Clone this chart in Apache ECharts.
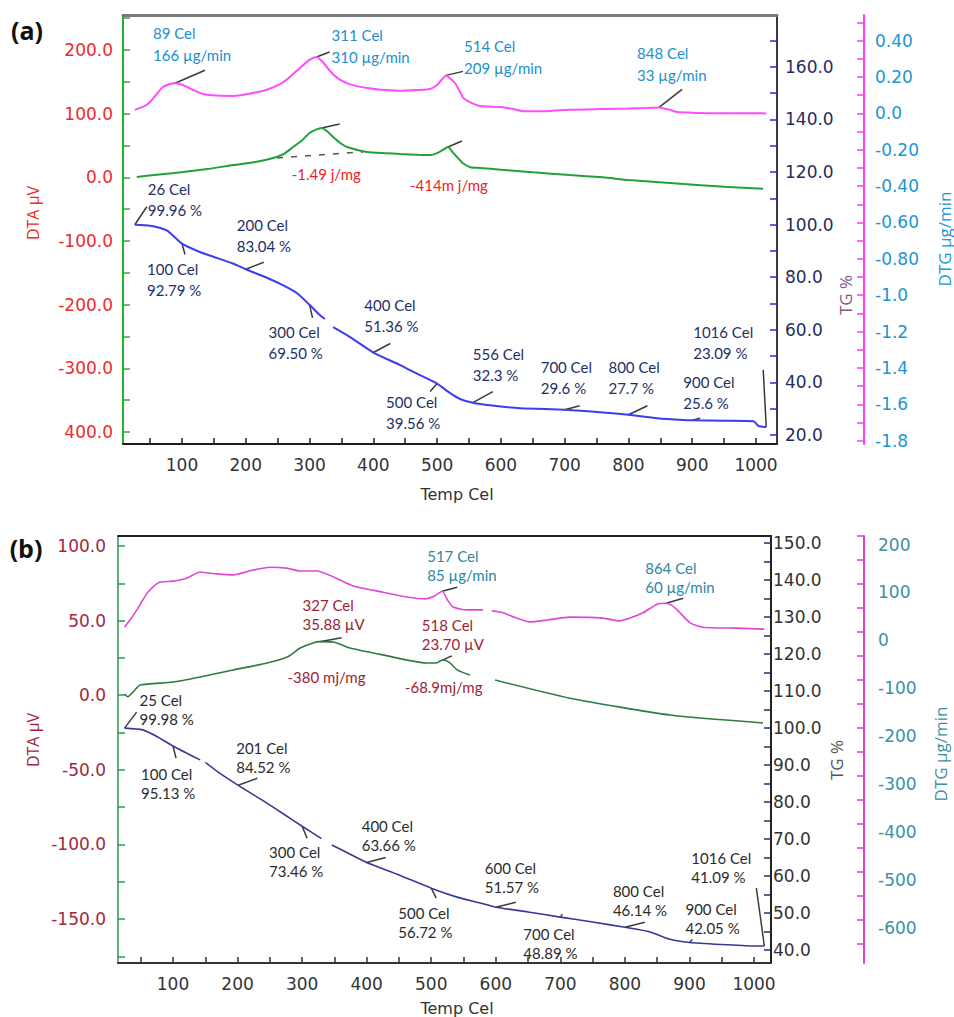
<!DOCTYPE html>
<html>
<head>
<meta charset="utf-8">
<script src="https://cdn.jsdelivr.net/npm/echarts@6/dist/echarts.min.js"></script>
<style>
  html, body { margin: 0; padding: 0; background: #fff; }
  #chart { width: 954px; height: 1017px; }
</style>
</head>
<body>
<div id="chart"></div>
<script>
// ---------------- Panel (a) data ----------------
// TG, %
const tgTempA = [26, 50, 76, 100, 128, 149, 180, 200, 233, 258, 280, 300, 316, 324, 330, 337, 363, 400, 442, 473, 500, 520, 536, 556, 583, 630, 700, 760, 800, 845, 886, 900, 950, 996, 1004, 1016];
const tgValA  = [99.96, 99.6, 97.8, 92.79, 89.6, 87.8, 85.2, 83.04, 79.8, 77.0, 74.0, 69.50, 65.6, 64.1, null, 61.0, 57.3, 51.36, 46.6, 42.8, 39.56, 36.0, 33.7, 32.3, 31.3, 30.2, 29.6, 28.6, 27.7, 26.4, 25.7, 25.6, 25.4, 25.2, 23.4, 23.09];
// DTG, µg/min (axis is drawn in mg/min)
const dtgTempA = [26, 40, 50, 60, 70, 80, 89, 98, 108, 120, 133, 155, 180, 205, 233, 255, 269, 285, 300, 311, 320, 327, 337, 348, 365, 390, 420, 442, 470, 489, 500, 507, 514, 521, 528, 535, 541, 552, 567, 600, 619, 635, 670, 708, 760, 800, 830, 848, 862, 876, 900, 917, 960, 1016];
const dtgValA  = [19, 38, 63, 105, 145, 160, 166, 160, 145, 125, 107, 98, 96, 108, 130, 163, 200, 250, 294, 310, 285, 255, 215, 184, 158, 140, 128, 124, 128, 134, 156, 185, 209, 190, 167, 125, 85, 60, 41, 35, 24, 12, 12, 20, 24, 27, 30, 33, 22, 8, 4, 2, 1, 0];
// DTA, µV
const dtaTempA = [29, 60, 102, 140, 180, 215, 243, 260, 274, 288, 300, 310, 319, 328, 337, 348, 359, 375, 390, 420, 442, 470, 489, 500, 509, 517, 524, 532, 540, 552, 567, 600, 650, 708, 760, 800, 865, 950, 1011];
const dtaValA  = [0.5, 4, 8.4, 13, 19.4, 24, 30.4, 37, 47.6, 58, 69.6, 75, 77.5, 72, 63.4, 54, 47.6, 43, 40, 38, 36.7, 35.5, 35, 38, 43, 47.6, 40, 31, 22.5, 16, 14.7, 12, 8, 3.7, 0, -4.2, -8.9, -14.7, -18];

// annotated points of panel (a)
const dtgNoteTempA = [89, 311, 514, 848];
const dtgNoteValA  = [166, 310, 209, 33];
const tgNoteTempA  = [26, 100, 200, 300, 400, 500, 556, 700, 800, 900, 1016];
const tgNoteTextA  = ['99.96', '92.79', '83.04', '69.50', '51.36', '39.56', '32.3', '29.6', '27.7', '25.6', '23.09'];
const dtaPeakTempA = [319, 517];
const dtaPeakTextA = ['-1.49 j/mg', '-414m j/mg'];

// tick labels of panel (a)
const xLabelValsA = [100, 200, 300, 400, 500, 600, 700, 800, 900, 1000];
const dtaLabelValsA = [200, 100, 0, -100, -200, -300, -400];
const dtaLabelTextA = ['200.0', '100.0', '0.0', '-100.0', '-200.0', '-300.0', '400.0'];
const tgLabelValsA = [160, 140, 120, 100, 80, 60, 40, 20];
const tgLabelTextA = ['160.0', '140.0', '120.0', '100.0', '80.0', '60.0', '40.0', '20.0'];
const dtgLabelValsA = [0.4, 0.2, 0, -0.2, -0.4, -0.6, -0.8, -1.0, -1.2, -1.4, -1.6, -1.8];
const dtgLabelTextA = ['0.40', '0.20', '0.0', '-0.20', '-0.40', '-0.60', '-0.80', '-1.0', '-1.2', '-1.4', '-1.6', '-1.8'];

// ---------------- Panel (b) data ----------------
const tgTempB = [25, 53, 75, 100, 120, 142, 145, 150, 170, 201, 240, 270, 300, 330, 338, 346, 370, 400, 450, 500, 540, 576, 600, 650, 700, 750, 800, 839, 870, 900, 950, 1000, 1016];
const tgValB  = [99.98, 99.5, 97.7, 95.13, 93.3, 91.4, null, 90.7, 88.1, 84.52, 80.3, 76.9, 73.46, 70.1, null, 68.4, 66.3, 63.66, 60.3, 56.72, 54.3, 52.7, 51.57, 50.3, 48.89, 47.6, 46.14, 44.9, 42.9, 42.05, 41.5, 41.1, 41.09];
const dtgTempB = [25, 35, 44, 52, 60, 70, 80, 100, 121, 142, 155, 168, 193, 224, 250, 276, 297, 323, 348, 379, 425, 462, 490, 505, 517, 526, 534, 555, 580, 588, 594, 611, 630, 653, 680, 715, 766, 792, 810, 828, 850, 864, 872, 881, 901, 921, 974, 1016];
const dtgValB  = [10, 28, 46, 64, 81, 95, 104, 106, 112, 125, 123, 121, 119, 129, 135, 133, 127, 127, 115, 96, 83, 73, 69, 75, 85, 65, 52, 46, 46, null, 44, 40, 30, 21, 25, 31, 29, 23, 30, 40, 58, 60, 56, 46, 19, 10, 8, 6];
const dtaTempB = [25, 30, 40, 49, 100, 142, 193, 246, 277, 297, 317, 327, 348, 374, 425, 493, 509, 518, 528, 540, 560, 580, 599, 715, 870, 1014];
const dtaValB  = [0.8, -1, 3, 6.8, 8.8, 12.2, 16.9, 21.6, 25.6, 31.6, 35, 35.88, 35.7, 31.6, 27, 21.6, 21.8, 23.70, 22, 17, 13.5, null, 10.2, -2, -13.3, -18.6];

const dtgNoteTempB = [517, 864];
const dtgNoteValB  = [85, 60];
const dtaNoteTempB = [327, 518];
const dtaNoteTextB = ['35.88', '23.70'];
const dtaAreaTextB = ['-380 mj/mg', '-68.9mj/mg'];
const tgNoteTempB  = [25, 100, 201, 300, 400, 500, 600, 700, 800, 900, 1016];
const tgNoteTextB  = ['99.98', '95.13', '84.52', '73.46', '63.66', '56.72', '51.57', '48.89', '46.14', '42.05', '41.09'];

const xLabelValsB = [100, 200, 300, 400, 500, 600, 700, 800, 900, 1000];
const dtaLabelValsB = [100, 50, 0, -50, -100, -150];
const dtaLabelTextB = ['100.0', '50.0', '0.0', '-50.0', '-100.0', '-150.0'];
const tgLabelValsB = [150, 140, 130, 120, 110, 100, 90, 80, 70, 60, 50, 40];
const tgLabelTextB = ['150.0', '140.0', '130.0', '120.0', '110.0', '100.0', '90.0', '80.0', '70.0', '60.0', '50.0', '40.0'];
const dtgLabelValsB = [200, 100, 0, -100, -200, -300, -400, -500, -600];
const dtgLabelTextB = ['200', '100', '0', '-100', '-200', '-300', '-400', '-500', '-600'];

// ---------------- helpers ----------------
function steps(from, to, step) {
  const out = [];
  const n = Math.round((to - from) / step);
  for (let i = 0; i <= n; i++) out.push(+(from + i * step).toFixed(6));
  return out;
}
function pairs(xs, ys, scale) {
  return xs.map((x, i) => [x, ys[i] === null ? '-' : ys[i] * (scale || 1)]);
}
function labelLookup(vals, texts) {
  return v => {
    for (let i = 0; i < vals.length; i++) if (Math.abs(vals[i] - v) < 1e-6) return texts[i];
    return '';
  };
}
const TICK_FONT = 'DejaVu Sans';
const NOTE_FONT = 'Lato';

function xAxisDef(grid, min, max, color, labelVals) {
  return {
    type: 'value', gridIndex: grid, position: 'bottom', min, max,
    axisLine: { show: true, onZero: false, lineStyle: { color, width: 2 } },
    axisTick: { show: true, inside: true, length: 6, customValues: steps(50, 1000, 50), lineStyle: { color, width: 1.5 } },
    axisLabel: { customValues: labelVals, formatter: v => String(v), color: '#333', fontFamily: TICK_FONT, fontSize: 17, margin: 12 },
    splitLine: { show: false }
  };
}
function borderAxisDef(grid, min, max, color, width) {
  return {
    type: 'value', gridIndex: grid, position: 'top', min, max,
    axisLine: { show: true, onZero: false, lineStyle: { color, width } },
    axisTick: { show: false }, axisLabel: { show: false }, splitLine: { show: false }
  };
}
function yAxisDef(o) {
  const label = {
    customValues: o.labelVals, formatter: labelLookup(o.labelVals, o.labelText),
    color: o.labelColor, fontFamily: TICK_FONT, fontSize: 17, margin: o.margin
  };
  if (o.vAlign) label.verticalAlign = o.vAlign;
  return {
    type: 'value', gridIndex: o.grid, position: o.pos, offset: o.offset || 0, min: o.min, max: o.max,
    axisLine: { show: true, onZero: false, lineStyle: { color: o.lineColor, width: o.lineWidth || 2 } },
    axisTick: { show: true, inside: true, length: o.tickLen || 7, customValues: o.ticks, lineStyle: { color: o.tickColor || o.lineColor, width: 1.5 } },
    axisLabel: label,
    splitLine: { show: false }
  };
}
function curve(name, xi, yi, data, color, width) {
  return {
    name, type: 'line', xAxisIndex: xi, yAxisIndex: yi, data, symbol: 'none', silent: true,
    smooth: 0.2, lineStyle: { color, width }
  };
}

// ---------------- chart ----------------
const chart = echarts.init(document.getElementById('chart'), null, { renderer: 'svg' });

const option = {
  animation: false,
  backgroundColor: '#fff',
  grid: [
    { left: 123, top: 15, width: 654, height: 429 },
    { left: 118, top: 536, width: 653, height: 427 }
  ],
  xAxis: [
    xAxisDef(0, 7.5, 1032.9, '#1e1e1e', xLabelValsA),
    borderAxisDef(0, 7.5, 1032.9, '#7a7a7a', 3),
    xAxisDef(1, 14.8, 1026.3, '#333', xLabelValsB),
    borderAxisDef(1, 14.8, 1026.3, '#222', 2)
  ],
  yAxis: [
    yAxisDef({ grid: 0, pos: 'left', min: -418.8, max: 255, ticks: steps(-400, 250, 50),
      labelVals: dtaLabelValsA, labelText: dtaLabelTextA, lineColor: '#22b02e', labelColor: '#ee2a2a', margin: 10 }),
    yAxisDef({ grid: 0, pos: 'right', min: 16.58, max: 179.7, ticks: steps(20, 170, 10),
      labelVals: tgLabelValsA, labelText: tgLabelTextA, lineColor: '#3a3a3a', tickColor: '#2b2bd0', labelColor: '#1f2d5c', margin: 8 }),
    yAxisDef({ grid: 0, pos: 'right', offset: 87, min: -1.818, max: 0.541, ticks: steps(-1.8, 0.5, 0.1),
      labelVals: dtgLabelValsA, labelText: dtgLabelTextA, lineColor: '#ff3cff', labelColor: '#1b95d4', margin: 11 }),
    yAxisDef({ grid: 1, pos: 'left', min: -179.5, max: 106.7, ticks: steps(-175, 100, 25),
      labelVals: dtaLabelValsB, labelText: dtaLabelTextB, lineColor: '#2a9a44', labelColor: '#a2283c', margin: 12, lineWidth: 1.5 }),
    yAxisDef({ grid: 1, pos: 'right', min: 36.5, max: 151.9, ticks: steps(40, 150, 5),
      labelVals: tgLabelValsB, labelText: tgLabelTextB, lineColor: '#222', tickColor: '#2a2a70', labelColor: '#333', margin: 2 }),
    yAxisDef({ grid: 1, pos: 'right', offset: 93, min: -689.6, max: 200, ticks: steps(-650, 200, 50),
      labelVals: dtgLabelValsB, labelText: dtgLabelTextB, lineColor: '#e040d0', labelColor: '#3f8ea3', margin: 14,
      vAlign: 'top' })
  ],
  series: [
    curve('DTG a', 0, 2, pairs(dtgTempA, dtgValA, 0.001), '#ff4cff', 2),
    curve('DTA a', 0, 0, pairs(dtaTempA, dtaValA), '#22a03a', 2),
    curve('TG a', 0, 1, pairs(tgTempA, tgValA), '#3c3cf2', 2),
    curve('DTG b', 2, 5, pairs(dtgTempB, dtgValB), '#e046d8', 1.6),
    curve('DTA b', 2, 3, pairs(dtaTempB, dtaValB), '#2f7a45', 1.6),
    curve('TG b', 2, 4, pairs(tgTempB, tgValB), '#383896', 1.6)
  ]
};
chart.setOption(option);

// ---------------- annotations ----------------
// Label placement relative to the annotated point: [text dx, text dy, leader dx, leader dy]
const dtgLayoutA = [[-22, -61, 30, -13], [15, -33, 13, -5], [18, -40, 17, -4], [-22, -65, 23, -18]];
const tgLayoutA = [[13, -46, 12, -18], [-35, 15, 3, 11], [-9, -55, 18, -7], [-41, 17, 3, 13], [-9, -58, 17, -9],
  [-51, 8, -7, 8], [0, -59, 20, -11], [-24, -53, 15, -4], [-20, -58, 19, -9], [-9, -49, 8, -2], [-73, -105, -3, -57]];
const dtaLayoutA = [[-30, 36, 18, -4], [-38, 28, 14, -6]];
const dtgLayoutB = [[-15, -45, 15, -4], [-21, -45, 17, -5]];
const dtaLayoutB = [[-17, -46, 22, -4], [-21, -44, 9, -4]];
const dtaAreaLayoutB = [[-32, 26], [-38, 18]];
const tgLayoutB = [[15, -38, 12, -16], [-32, 18, 3, 12], [-2, -47, 19, -7], [-33, 16, 5, 12], [-5, -46, 19, -5],
  [-33, 15, 5, 10], [-11, -49, 20, -5], [-37, 7, 2, -3], [-12, -46, 20, -5], [-4, -43, 3, -3], [-73, -98, -8, -58]];

const graphics = [];
function note(seriesIndex, point, text, lay, color, lineHeight) {
  const p = chart.convertToPixel({ seriesIndex }, point);
  graphics.push({
    type: 'text', x: p[0] + lay[0], y: p[1] + lay[1], silent: true,
    style: { text, fill: color, fontFamily: NOTE_FONT, fontSize: 15, lineHeight, align: 'left', verticalAlign: 'top' }
  });
  if (lay.length > 2) {
    graphics.push({
      type: 'line', silent: true,
      shape: { x1: p[0], y1: p[1], x2: p[0] + lay[2], y2: p[1] + lay[3] },
      style: { stroke: '#3a3a3a', lineWidth: 1.5 }
    });
  }
}
function findVal(temps, vals, t) { return vals[temps.indexOf(t)]; }

// panel (a)
dtgNoteTempA.forEach((t, i) => note(0, [t, dtgNoteValA[i] / 1000], t + ' Cel\n' + dtgNoteValA[i] + ' µg/min', dtgLayoutA[i], '#1c8fd0', 22));
tgNoteTempA.forEach((t, i) => note(2, [t, Number(tgNoteTextA[i])], t + ' Cel\n' + tgNoteTextA[i] + ' %', tgLayoutA[i], '#1e2f66', 21));
dtaPeakTempA.forEach((t, i) => note(1, [t, findVal(dtaTempA, dtaValA, t)], dtaPeakTextA[i], dtaLayoutA[i], '#ee2424', 20));
// integration baseline under the first DTA peak
(function () {
  const a = chart.convertToPixel({ seriesIndex: 1 }, [249, 30.4]);
  const b = chart.convertToPixel({ seriesIndex: 1 }, [384, 40]);
  graphics.push({ type: 'line', silent: true, shape: { x1: a[0], y1: a[1], x2: b[0], y2: b[1] },
    style: { stroke: '#555', lineWidth: 1.5, lineDash: [6, 8] } });
})();

// panel (b)
dtgNoteTempB.forEach((t, i) => note(3, [t, dtgNoteValB[i]], t + ' Cel\n' + dtgNoteValB[i] + ' µg/min', dtgLayoutB[i], '#2c88a3', 19));
dtaNoteTempB.forEach((t, i) => note(4, [t, Number(dtaNoteTextB[i])], t + ' Cel\n' + dtaNoteTextB[i] + ' µV', dtaLayoutB[i], '#9c2333', 19));
dtaNoteTempB.forEach((t, i) => note(4, [t, Number(dtaNoteTextB[i])], dtaAreaTextB[i], dtaAreaLayoutB[i], '#9c2333', 19));
tgNoteTempB.forEach((t, i) => note(5, [t, Number(tgNoteTextB[i])], t + ' Cel\n' + tgNoteTextB[i] + ' %', tgLayoutB[i], '#2b2b2b', 19));

// panel letters and axis titles
function title(text, x, y, color, size, rotate, weight, family) {
  graphics.push({
    type: 'text', x, y, rotation: rotate ? Math.PI / 2 : 0, silent: true,
    style: { text, fill: color, fontFamily: family || 'Open Sans', fontSize: size, fontWeight: weight || 'normal', align: 'center', verticalAlign: 'middle' }
  });
}
title('(a)', 27, 30, '#111', 25, false, 'bold');
title('(b)', 26, 548, '#111', 25, false, 'bold');
title('DTA µV', 33, 213, '#ee2a2a', 16, true);
title('TG %', 845, 295, '#7c5b82', 17, true);
title('DTG µg/min', 944, 239, '#1b95d4', 17, true);
title('DTA µV', 33, 740, '#a2283c', 16, true);
title('TG %', 836, 760, '#555', 17, true);
title('DTG µg/min', 940, 754, '#3f8ea3', 17, true);
title('Temp Cel', 457, 494, '#333', 16, false, 'normal', TICK_FONT);
title('Temp Cel', 457, 1008, '#333', 16, false, 'normal', TICK_FONT);

chart.setOption({ graphic: graphics });
</script>
</body>
</html>
